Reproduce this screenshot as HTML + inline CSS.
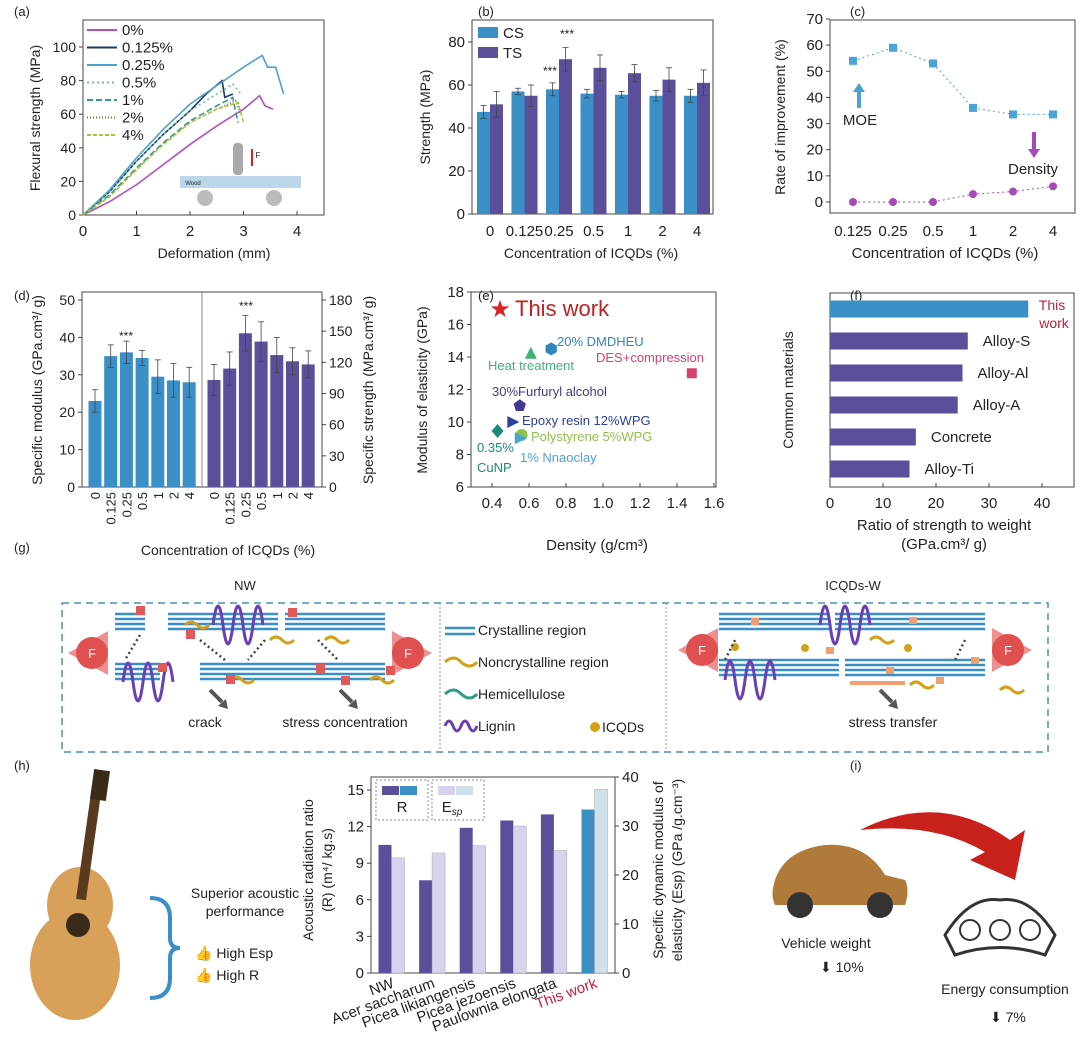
<!DOCTYPE html>
<html><head><meta charset="utf-8"><style>
body{margin:0;background:#fff;}
svg{display:block;font-family:"Liberation Sans",Arial,sans-serif;}
text{fill:#222;}
</style></head><body>
<svg id="s" width="1080" height="1051" viewBox="0 0 1080 1051">
<g id="root"></g>
</svg>
<script>
// ===== data =====
const aSeriesNames=["0%","0.125%","0.25%","0.5%","1%","2%","4%"];
const aColors=["#b44fbf","#1f3a5f","#4aa3cf","#6fc2a0","#2e9c8a","#6b7c2a","#a8c23a"];
const aX0=[0,0.5,1,1.5,2,2.5,3,3.3,3.4,3.55];const aY0=[0,8,18,30,42,53,63,71,65,63];
const aX1=[0,0.5,1,1.5,2,2.3,2.6,2.65,2.8];const aY1=[0,14,32,48,62,72,80,70,72];
const aX2=[0,0.5,1,1.5,2,2.5,3,3.35,3.45,3.6,3.75];const aY2=[0,15,34,51,66,77,88,95,88,88,72];
const aX3=[0,0.5,1,1.5,2,2.5,2.8,2.95];const aY3=[0,14,32,48,62,72,78,72];
const aX4=[0,0.5,1,1.5,2,2.5,2.8,2.85,2.9];const aY4=[0,12,28,43,56,65,70,62,55];
const aX5=[0,0.5,1,1.5,2,2.5,2.85,2.95];const aY5=[0,11,27,42,55,63,68,60];
const aX6=[0,0.5,1,1.5,2,2.5,2.9,3.0];const aY6=[0,11,27,42,55,63,67,55];
const bCats=["0","0.125","0.25","0.5","1","2","4"];
const bCS=[47.5,57,58,56,55.5,55,55];const bCSe=[3,1.5,3,2,1.5,2.5,3];
const bTS=[51,55,72,68,65.5,62.5,61];const bTSe=[6,5,5.5,6,4,5.5,6];
const cCats=["0.125","0.25","0.5","1","2","4"];
const cMOE=[54,59,53,36,33.5,33.5];const cDen=[0,0,0,3,4,6];
const dCats=["0","0.125","0.25","0.5","1","2","4"];
const dMod=[23,35,36,34.5,29.5,28.5,28];const dModE=[3,3,3,2,4.5,4.5,4];
const dStr=[103,114,148,140,127,121,118];const dStrE=[15,16,17,19,17,13,13];
const eNames=["20% DMDHEU","Heat treatment","DES+compression","30%Furfuryl alcohol","Epoxy resin 12%WPG","Polystyrene 5%WPG","1% Nnaoclay","0.35% CuNP"];
const eX=[0.72,0.61,1.48,0.55,0.51,0.56,0.55,0.43];
const eY=[14.5,14.2,13,11,10,9.2,9.0,9.45];
const eCol=["#2e86c1","#3cb371","#d6406e","#3f3a8f","#2c3e9e","#8bc34a","#4aa3d6","#1a8a7a"];
const eShape=["hex","tri","sq","pent","tri-r","circ","tri-r","dia"];
const fNames=["This work","Alloy-S","Alloy-Al","Alloy-A","Concrete","Alloy-Ti"];
const fVals=[37.4,26,25,24.1,16.2,15];
const hCats=["NW","Acer saccharum","Picea likiangensis","Picea jezoensis","Paulownia elongata","This work"];
const hR=[10.5,7.6,11.9,12.5,13,13.4];
const hE=[23.5,24.5,26,30,25,37.5];

const NS="http://www.w3.org/2000/svg";const root=document.getElementById('root');
function el(t,a,p,txt){const e=document.createElementNS(NS,t);for(const k in a)e.setAttribute(k,a[k]);if(txt!==undefined)e.textContent=txt;(p||root).appendChild(e);return e;}
function T(x,y,s,o,name){o=o||{};const e=el('text',Object.assign({x:x,y:y,'font-size':o.fs||14,'text-anchor':o.a||'middle'},o.attr||{}),o.p,s);if(o.fill)e.style.fill=o.fill;

return e;}
function lin(d0,d1,r0,r1){return v=>r0+(v-d0)*(r1-r0)/(d1-d0);}
function box(x0,y0,x1,y1,name){const r=el('rect',{x:x0,y:y0,width:x1-x0,height:y1-y0,fill:'none',stroke:'#444','stroke-width':1});

}
function rot(x,y,s,fs,name){return T(x,y,s,{fs:fs,attr:{transform:`rotate(-90 ${x} ${y})`}},name);}
function yTicks(vals,sy,x,side,name,fs){vals.forEach(v=>{const y=sy(v);el('line',{x1:x,x2:x+(side<0?-4:4),y1:y,y2:y,stroke:'#444'});T(x+(side<0?-7:7),y+5,String(v),{fs:fs||14,a:side<0?'end':'start'},name);});}
function errbar(x,y1,y2){el('line',{x1:x,x2:x,y1:y1,y2:y2,stroke:'#444','stroke-width':0.8});el('line',{x1:x-3,x2:x+3,y1:y1,y2:y1,stroke:'#444','stroke-width':0.8});el('line',{x1:x-3,x2:x+3,y1:y2,y2:y2,stroke:'#444','stroke-width':0.8});}

[["(a)",14,16],["(b)",478,16],["(c)",850,16],["(d)",14,300],["(e)",478,300],["(f)",850,300],["(g)",14,552],["(h)",14,770],["(i)",850,770]].forEach(p=>T(p[1],p[2],p[0],{fs:13,a:'start'},'panel-label'));

// ===== (a) =====
{const sx=lin(0,4,83,297),sy=lin(0,100,215,47);box(83,20,324,215,'plot-area-a');
[0,1,2,3,4].forEach(v=>{el('line',{x1:sx(v),x2:sx(v),y1:215,y2:211,stroke:'#444'});T(sx(v),236,String(v),{fs:15},'x-tick-a');});
yTicks([0,20,40,60,80,100],sy,83,-1,'y-tick-a');
T(214,258,'Deformation (mm)',{fs:14},'x-axis-title-a');rot(40,118,'Flexural strength (MPa)',14,'y-axis-title-a');
const XS=[aX0,aX1,aX2,aX3,aX4,aX5,aX6],YS=[aY0,aY1,aY2,aY3,aY4,aY5,aY6];const dash=['','','','2,3','6,3','1,2','4,2'];
XS.forEach((xs,i)=>{const d=xs.map((x,j)=>(j?'L':'M')+sx(x)+','+sy(YS[i][j])).join('');const p=el('path',{d:d,fill:'none',stroke:aColors[i],'stroke-width':1.6,'stroke-dasharray':dash[i]});

});
aSeriesNames.forEach((n,i)=>{const y=30+i*17.5;el('line',{x1:87,x2:117,y1:y,y2:y,stroke:aColors[i],'stroke-width':2,'stroke-dasharray':dash[i]});T(122,y+5,n,{fs:15,a:'start'},'legend-entry-a');});
el('rect',{x:180,y:176,width:121,height:12,fill:'#bcd6ea'});T(193,185,'Wood',{fs:6},'wood-label');
el('rect',{x:233,y:143,width:10,height:32,rx:4,fill:'#aaa'});el('line',{x1:252,x2:252,y1:149,y2:166,stroke:'#d22','stroke-width':2});T(258,158,'F',{fs:8},'force-label');
el('circle',{cx:205,cy:198,r:8,fill:'#bbb'});el('circle',{cx:274,cy:198,r:8,fill:'#bbb'});}

// ===== (b) =====
{const cx=i=>490+i*34.5,sy=lin(0,80,214,42);box(472,20,713,214,'plot-area-b');
yTicks([0,20,40,60,80],sy,472,-1,'y-tick-b',15);
bCats.forEach((c,i)=>{T(cx(i),236,c,{fs:15},'x-tick-b');
[[bCS,bCSe,'#3a8fc7',-6.5],[bTS,bTSe,'#5b4f9c',6.5]].forEach(([v,e,col,o])=>{const r=el('rect',{x:cx(i)+o-6.5,y:sy(v[i]),width:13,height:214-sy(v[i]),fill:col});


errbar(cx(i)+o,sy(v[i]+e[i]),sy(v[i]-e[i]));});});
T(567,38,'***',{fs:12},'sig-b');T(550,75,'***',{fs:12},'sig-b');
el('rect',{x:478,y:27,width:20,height:11,fill:'#3a8fc7'});T(503,38,'CS',{a:'start',fs:15},'legend-cs');el('rect',{x:478,y:47,width:20,height:11,fill:'#5b4f9c'});T(503,58,'TS',{a:'start',fs:15},'legend-ts');
rot(430,117,'Strength (MPa)',14,'y-axis-title-b');T(591,258,'Concentration of ICQDs (%)',{},'x-axis-title-b');}

// ===== (c) =====
{const cx=i=>853+i*40,sy=lin(0,70,202,19);box(830,20,1075,213,'plot-area-c');
yTicks([0,10,20,30,40,50,60,70],sy,830,-1,'y-tick-c',15);
cCats.forEach((c,i)=>T(cx(i),236,c,{fs:15},'x-tick-c'));
[[cMOE,'#4aa3d6','rect'],[cDen,'#a54bb5','circle']].forEach(([v,col,sh])=>{el('path',{d:v.map((y,i)=>(i?'L':'M')+cx(i)+','+sy(y)).join(''),fill:'none',stroke:col,'stroke-dasharray':'2,3'});
v.forEach((y,i)=>{const m=sh=='rect'?el('rect',{x:cx(i)-4,y:sy(y)-4,width:8,height:8,fill:col}):el('circle',{cx:cx(i),cy:sy(y),r:4,fill:col});

});});
el('path',{d:'M857,108 l0,-16 l-4,0 l6,-9 l6,9 l-4,0 l0,16z',fill:'#4aa3d6'});T(860,125,'MOE',{fs:15},'moe-label');
el('path',{d:'M1032,132 l0,17 l-4,0 l6,9 l6,-9 l-4,0 l0,-17z',fill:'#a54bb5'});T(1033,174,'Density',{fs:15},'density-label');
rot(785,117,'Rate of improvement (%)',14,'y-axis-title-c');T(945,258,'Concentration of ICQDs (%)',{fs:15},'x-axis-title-c');}

// ===== (d) =====
{const cx=i=>95+i*15.7,cx2=i=>214+i*15.7,sy=lin(0,50,487,300),sy2=lin(0,180,487,300);box(82,292,322,487,'plot-area-d');el('line',{x1:202,x2:202,y1:292,y2:487,stroke:'#888'});
yTicks([0,10,20,30,40,50],sy,82,-1,'y-tick-d-left');yTicks([0,30,60,90,120,150,180],sy2,322,1,'y-tick-d-right');
[[dMod,dModE,sy,cx,'#3a8fc7'],[dStr,dStrE,sy2,cx2,'#5b4f9c']].forEach(([v,e,s,c,col])=>v.forEach((y,i)=>{const r=el('rect',{x:c(i)-6.5,y:s(y),width:13,height:487-s(y),fill:col});


errbar(c(i),s(y+e[i]),s(y-e[i]));
T(0,0,dCats[i],{fs:13,a:'end',attr:{transform:`translate(${c(i)+5},${492}) rotate(-90)`}},'x-tick-d');}));
T(126,340,'***',{fs:12},'sig-d');T(246,310,'***',{fs:12},'sig-d');
rot(42,390,'Specific modulus (GPa.cm³/ g)',14,'y-axis-title-d-left');rot(373,390,'Specific strength (MPa.cm³/ g)',14,'y-axis-title-d-right');
T(228,555,'Concentration of ICQDs (%)',{},'x-axis-title-d');}

// ===== (e) =====
{const sx=lin(0.4,1.4,492,677),sy=lin(6,18,487,292);box(471,292,716,487,'plot-area-e');
[0.4,0.6,0.8,1.0,1.2,1.4,1.6].forEach(v=>{el('line',{x1:sx(v),x2:sx(v),y1:487,y2:483,stroke:'#444'});T(sx(v),508,v.toFixed(1),{fs:15},'x-tick-e');});
yTicks([6,8,10,12,14,16,18],sy,471,-1,'y-tick-e',15);
eNames.forEach((n,i)=>{const x=sx(eX[i]),y=sy(eY[i]),r=6,c=eCol[i];let m;
const sh=eShape[i];
if(sh=='sq')m=el('rect',{x:x-5,y:y-5,width:10,height:10,fill:c});
else if(sh=='circ')m=el('circle',{cx:x,cy:y,r:r,fill:c});
else{let pts;if(sh=='tri')pts=[[0,-7],[6,5],[-6,5]];else if(sh=='tri-r')pts=[[7,0],[-5,-6],[-5,6]];else if(sh=='dia')pts=[[0,-7],[6,0],[0,7],[-6,0]];
else{const k=sh=='hex'?6:5;pts=[];for(let j=0;j<k;j++){const a=-Math.PI/2+j*2*Math.PI/k;pts.push([6.5*Math.cos(a),6.5*Math.sin(a)]);}}
m=el('polygon',{points:pts.map(p=>(x+p[0])+','+(y+p[1])).join(' '),fill:c});}

});
T(500,317,'★',{fs:24,fill:'#d22'},'star');T(515,316,'This work',{fs:22,a:'start',fill:'#c41e1e'},'this-work-e');
T(557,346,'20% DMDHEU',{fs:13,a:'start',fill:'#2e86c1'},'label-e');T(488,370,'Heat treatment',{fs:13,a:'start',fill:'#3cb371'},'label-e');
T(596,362,'DES+compression',{fs:13,a:'start',fill:'#d6406e'},'label-e');T(492,396,'30%Furfuryl alcohol',{fs:13,a:'start',fill:'#3f3a8f'},'label-e');
T(522,425,'Epoxy resin 12%WPG',{fs:13,a:'start',fill:'#2c3e9e'},'label-e');T(531,441,'Polystyrene 5%WPG',{fs:13,a:'start',fill:'#8bc34a'},'label-e');
T(520,462,'1% Nnaoclay',{fs:13,a:'start',fill:'#4aa3d6'},'label-e');T(477,452,'0.35%',{fs:13,a:'start',fill:'#1a8a7a'},'label-e');T(477,472,'CuNP',{fs:13,a:'start',fill:'#1a8a7a'},'label-e');
rot(427,390,'Modulus of elasticity (GPa)',14,'y-axis-title-e');T(597,550,'Density (g/cm³)',{fs:15},'x-axis-title-e');}

// ===== (f) =====
{const sx=lin(0,40,830,1042),cy=i=>309+i*32;box(830,293,1074,487,'plot-area-f');
[0,10,20,30,40].forEach(v=>{el('line',{x1:sx(v),x2:sx(v),y1:487,y2:483,stroke:'#444'});T(sx(v),508,String(v),{fs:15},'x-tick-f');});
fNames.forEach((n,i)=>{const r=el('rect',{x:830,y:cy(i)-8.5,width:sx(fVals[i])-830,height:17,fill:i?'#5b4f9c':'#3a8fc7'});


if(i)T(sx(fVals[i])+15,cy(i)+5,n,{a:'start',fs:15},'bar-label-f');});
T(1052,310,'This',{fs:14,fill:'#c41e3a'},'this-work-f');T(1054,328,'work',{fs:14,fill:'#c41e3a'},'this-work-f');
rot(793,390,'Common materials',14,'y-axis-title-f');T(944,530,'Ratio of strength to weight',{fs:15},'x-axis-title-f');T(944,549,'(GPa.cm³/ g)',{fs:15},'x-axis-title-f2');}

// ===== (g) schematic =====
{el('rect',{x:62,y:603,width:986,height:149,fill:'none',stroke:'#4a8fb8','stroke-width':1.5,'stroke-dasharray':'7,5'});
el('line',{x1:440,x2:440,y1:603,y2:752,stroke:'#999','stroke-dasharray':'2,2'});el('line',{x1:666,x2:666,y1:603,y2:752,stroke:'#999','stroke-dasharray':'2,2'});
T(245,590,'NW',{fs:13},'nw-title');T(853,590,'ICQDs-W',{fs:13},'icqds-title');
function fibers(x,y,w){for(let k=0;k<4;k++)el('line',{x1:x,x2:x+w,y1:y+k*5,y2:y+k*5,stroke:'#3a8fc7','stroke-width':2.5});}
[[115,614,30],[168,614,110],[285,614,100],[115,664,45],[200,664,95],[295,664,90],[719,614,110],[835,614,150],[719,660,120],[845,660,140]].forEach(f=>fibers(...f));
[[90,653,1],[410,653,-1],[700,650,1],[1010,650,-1]].forEach(([x,y,d])=>{el('path',{d:`M${x+d*18},${y-22} L${x-d*22},${y} L${x+d*18},${y+22}z`,fill:'#ee9090'});el('ellipse',{cx:x+d*2,cy:y,rx:16,ry:16,fill:'#e05050'});T(x+d*2,y+5,'F',{fs:13,fill:'#fff'},'force-f');});
const lig=(x,y)=>el('path',{d:`M${x},${y} q5,-38 10,0 q5,38 10,0 q5,-38 10,0 q5,38 10,0 q5,-38 10,0`,fill:'none',stroke:'#6a3fb5','stroke-width':3});
lig(213,625);lig(123,682);lig(820,625);lig(725,680);
[[185,625],[270,640],[325,640],[370,680],[230,680],[870,640],[910,685],[1000,690]].forEach(([x,y])=>el('path',{d:`M${x},${y} q6,-6 12,0 q6,6 12,0`,fill:'none',stroke:'#d4a017','stroke-width':3}));
[[140,610],[190,634],[292,612],[320,668],[345,680],[162,667],[230,679],[390,670]].forEach(([x,y])=>el('rect',{x:x-4,y:y-4,width:9,height:9,fill:'#e05a5a'}));
[[755,621],[830,650],[890,670],[940,680],[913,620],[975,660]].forEach(([x,y])=>el('rect',{x:x-4,y:y-3,width:8,height:7,fill:'#f0a070'}));
el('line',{x1:850,x2:905,y1:683,y2:683,stroke:'#f0a070','stroke-width':4});
[[735,647],[805,648],[908,648]].forEach(([x,y])=>el('circle',{cx:x,cy:y,r:4,fill:'#d4a017'}));
[[140,635,125,660],[200,640,225,660],[265,640,248,660],[318,640,338,660],[735,640,725,660],[965,640,955,660]].forEach(([a,b,c,d])=>el('line',{x1:a,y1:b,x2:c,y2:d,stroke:'#444','stroke-width':2.5,'stroke-dasharray':'2,3'}));
[[210,690],[340,690],[880,690]].forEach(([x,y])=>{el('line',{x1:x,y1:y,x2:x+12,y2:y+12,stroke:'#555','stroke-width':4});el('path',{d:`M${x+8},${y+16} l10,3 l-2,-10z`,fill:'#555'});});
T(205,727,'crack',{},'crack-label');T(345,727,'stress concentration',{},'stress-conc-label');T(893,727,'stress transfer',{},'stress-transfer-label');
[['Crystalline region',630],['Noncrystalline region',662],['Hemicellulose',694],['Lignin',726]].forEach(([s,y],i)=>{if(i==0){for(let k=0;k<2;k++)el('line',{x1:445,x2:475,y1:y-2+k*6,y2:y-2+k*6,stroke:'#3a8fc7','stroke-width':2.5});}else if(i==3)el('path',{d:`M445,${y} q4,-10 8,0 q4,10 8,0 q4,-10 8,0 q4,10 8,0`,fill:'none',stroke:'#6a3fb5','stroke-width':3});else el('path',{d:`M445,${y} q9,-8 16,0 q9,8 16,0`,fill:'none',stroke:['','#d4a017','#2e9c8a'][i],'stroke-width':3});T(478,y+5,s,{a:'start'},'legend-g');});
el('circle',{cx:595,cy:727,r:5,fill:'#d4a017'});T(602,732,'ICQDs',{a:'start'},'legend-icqds');}

// ===== (h) =====
{const cx=i=>385+i*40.6,sy=lin(0,15,973,790),sy2=lin(0,40,973,777);box(371,777,615,973,'plot-area-h');
yTicks([0,3,6,9,12,15],sy,371,-1,'y-tick-h-left',15);yTicks([0,10,20,30,40],sy2,615,1,'y-tick-h-right',15);
hCats.forEach((c,i)=>{const last=i==5;const r1=el('rect',{x:cx(i)-6.5,y:sy(hR[i]),width:13,height:973-sy(hR[i]),fill:last?'#3a8fc7':'#5b4f9c'});


const r2=el('rect',{x:cx(i)+6.5,y:sy2(hE[i]),width:13,height:973-sy2(hE[i]),fill:last?'#cfe0ea':'#d9d2ee',stroke:'#aaa','stroke-width':0.5});


T(0,0,c,{fs:15,a:'end',fill:last?'#c41e3a':'#222',attr:{transform:`translate(${cx(i)+10},${987}) rotate(-20)`}},'x-tick-h');});
el('rect',{x:376,y:780,width:52,height:40,fill:'none',stroke:'#888','stroke-dasharray':'2,2'});el('rect',{x:382,y:786,width:17,height:9,fill:'#5b4f9c'});el('rect',{x:400,y:786,width:17,height:9,fill:'#3a8fc7'});T(402,812,'R',{fs:15},'legend-r');
el('rect',{x:432,y:780,width:52,height:40,fill:'none',stroke:'#888','stroke-dasharray':'2,2'});el('rect',{x:438,y:786,width:17,height:9,fill:'#d9d2ee'});el('rect',{x:456,y:786,width:17,height:9,fill:'#cfe0ea'});
const et=T(452,812,'E',{fs:15},'legend-esp');el('tspan',{'font-size':10,'font-style':'italic',dy:3},et,'sp');
rot(313,870,'Acoustic radiation ratio',14,'y-axis-title-h1');rot(332,870,'(R) (m⁴/ kg.s)',14,'y-axis-title-h2');
rot(663,870,'Specific dynamic modulus of',14,'y-axis-title-h3');rot(682,870,'elasticity (Esp) (GPa /g.cm⁻³)',14,'y-axis-title-h4');
el('ellipse',{cx:75,cy:965,rx:45,ry:55,fill:'#d9a05a'});el('ellipse',{cx:80,cy:905,rx:33,ry:38,fill:'#d9a05a'});el('circle',{cx:78,cy:925,r:12,fill:'#3a2a1a'});
el('rect',{x:83,y:790,width:10,height:110,fill:'#5a3a1e',transform:'rotate(8 88 850)'});el('rect',{x:92,y:770,width:16,height:30,fill:'#3a2a1a',transform:'rotate(8 100 785)'});
T(245,898,'Superior acoustic',{},'acoustic-text');T(245,916,'performance',{},'acoustic-text2');
el('path',{d:'M150,898 q20,0 20,20 l0,20 q0,10 10,10 q-10,0 -10,10 l0,20 q0,20 -20,20',fill:'none',stroke:'#3a8fc7','stroke-width':4});
T(195,958,'👍 High Esp',{a:'start'},'high-esp');T(195,980,'👍 High R',{a:'start'},'high-r');}

// ===== (i) =====
{el('path',{d:'M775,880 q10,-30 50,-35 q40,-3 60,30 l20,5 q5,10 0,25 l-130,0 q-5,-10 0,-25z',fill:'#b07a3a'});
el('circle',{cx:800,cy:905,r:13,fill:'#333'});el('circle',{cx:880,cy:905,r:13,fill:'#333'});
T(826,948,'Vehicle weight',{},'vehicle-weight');T(820,972,'⬇ 10%',{a:'start'},'weight-reduction');
el('path',{d:'M860,830 q80,-40 150,10 l15,-10 l-10,50 l-45,-20 l15,-8 q-50,-30 -125,-22z',fill:'#c8201a'});
el('path',{d:'M945,935 q25,-40 55,-35 q30,-5 55,35 l-10,20 q-45,-15 -90,0z',fill:'#fff',stroke:'#333','stroke-width':3});
[970,1000,1030].forEach(x=>el('circle',{cx:x,cy:930,r:10,fill:'none',stroke:'#333','stroke-width':2}));
T(1005,994,'Energy consumption',{},'energy-consumption');T(990,1022,'⬇ 7%',{a:'start'},'energy-reduction');}
</script>
</body></html>
